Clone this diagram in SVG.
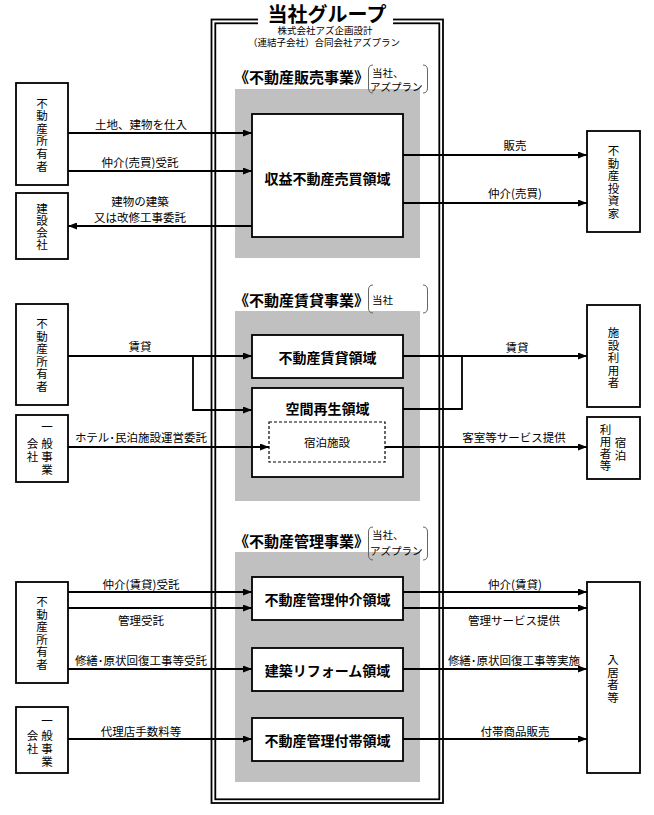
<svg xmlns="http://www.w3.org/2000/svg" width="654" height="815" viewBox="0 0 654 815">
<style>
text{font-family:"Noto Sans CJK JP","Noto Sans",sans-serif;fill:#000}
.box{fill:#fff;stroke:#000;stroke-width:1.8}
.grey{fill:#c0c0c0}
.frame{fill:none;stroke:#000;stroke-width:1.8}
.ln{fill:none;stroke:#000;stroke-width:1.8}
.arr{fill:none;stroke:#000;stroke-width:1.8;marker-end:url(#ah)}
.dash{fill:#fff;stroke:#000;stroke-width:1.2;stroke-dasharray:3 2}
.brk{fill:none;stroke:#666;stroke-width:1}
.v{font-size:11.5px;text-anchor:middle;dominant-baseline:central}
.lb{font-size:11.5px;text-anchor:middle;dominant-baseline:central}
.bt{font-size:14px;font-weight:bold;text-anchor:middle;dominant-baseline:central}
.hd{font-size:15px;font-weight:bold}
.sm{font-size:10.5px}
</style>
<defs>
<marker id="ah" markerUnits="userSpaceOnUse" markerWidth="9" markerHeight="7" refX="9" refY="3.5" orient="auto">
<path d="M0,0 L9,3.5 L0,7 z" fill="#000"/>
</marker>
</defs>
<rect width="654" height="815" fill="#fff"/>

<g id="group-frame">
<rect class="frame" x="211.5" y="19.5" width="231.5" height="783.5"/>
<rect class="frame" x="215.3" y="23.3" width="224" height="776"/>
<rect x="258" y="10" width="135" height="18" fill="#fff"/>
<text x="327" y="21.5" font-size="20" font-weight="bold" text-anchor="middle">当社グループ</text>
<text x="325" y="34" font-size="9.5" text-anchor="middle">株式会社アズ企画設計</text>
<text x="324" y="45.5" font-size="9.5" text-anchor="middle">（連結子会社）合同会社アズプラン</text>
</g>

<g id="sec-sales">
<rect class="grey" x="235" y="89" width="185" height="169"/>
<text class="hd" x="234" y="83">《不動産販売事業》</text>
<path class="brk" d="M373,65 Q368.5,65 368.5,70 L368.5,88 Q368.5,93 373,93"/>
<path class="brk" d="M423,65 Q427.5,65 427.5,70 L427.5,88 Q427.5,93 423,93"/>
<text class="sm" x="372" y="77">当社、</text>
<text class="sm" x="370" y="90.5">アズプラン</text>
</g>
<g id="n-shueki">
<rect class="box" x="252" y="114" width="151" height="123"/>
<text class="bt" x="327.5" y="177.5">収益不動産売買領域</text>
</g>

<g id="sec-rental">
<rect class="grey" x="235" y="311" width="185" height="190"/>
<text class="hd" x="234" y="306">《不動産賃貸事業》</text>
<path class="brk" d="M373,285 Q368.5,285 368.5,290 L368.5,308 Q368.5,313 373,313"/>
<path class="brk" d="M423,285 Q427.5,285 427.5,290 L427.5,308 Q427.5,313 423,313"/>
<text class="sm" x="372" y="304">当社</text>
</g>
<g id="n-chintai">
<rect class="box" x="252" y="335" width="151" height="43"/>
<text class="bt" x="327.5" y="357">不動産賃貸領域</text>
</g>
<g id="n-kukan">
<rect class="box" x="252" y="388" width="151" height="89"/>
<text class="bt" x="327.5" y="408">空間再生領域</text>
</g>
<g id="n-shukuhaku">
<rect class="dash" x="269" y="422" width="116" height="40"/>
<text class="lb" x="327" y="442">宿泊施設</text>
</g>

<g id="sec-mgmt">
<rect class="grey" x="235" y="552" width="185" height="230"/>
<text class="hd" x="234" y="547">《不動産管理事業》</text>
<path class="brk" d="M373,527 Q368.5,527 368.5,532 L368.5,555 Q368.5,560 373,560"/>
<path class="brk" d="M423,527 Q427.5,527 427.5,532 L427.5,555 Q427.5,560 423,560"/>
<text class="sm" x="372" y="539">当社、</text>
<text class="sm" x="370" y="555">アズプラン</text>
</g>
<g id="n-kanri-chukai">
<rect class="box" x="252" y="577" width="151" height="43"/>
<text class="bt" x="327.5" y="598.5">不動産管理仲介領域</text>
</g>
<g id="n-reform">
<rect class="box" x="252" y="648" width="151" height="43"/>
<text class="bt" x="327.5" y="670">建築リフォーム領域</text>
</g>
<g id="n-futai">
<rect class="box" x="252" y="718" width="151" height="43"/>
<text class="bt" x="327.5" y="740">不動産管理付帯領域</text>
</g>

<!-- external nodes -->
<g id="n-owner1">
<rect class="box" x="16" y="83" width="52" height="102"/>
<text class="v" x="42" y="102.5">不</text><text class="v" x="42" y="115.1">動</text><text class="v" x="42" y="127.7">産</text><text class="v" x="42" y="140.3">所</text><text class="v" x="42" y="152.9">有</text><text class="v" x="42" y="165.5">者</text>
</g>
<g id="n-kensetsu">
<rect class="box" x="16" y="193" width="52" height="66"/>
<text class="v" x="42" y="207.5">建</text><text class="v" x="42" y="219.5">設</text><text class="v" x="42" y="231.5">会</text><text class="v" x="42" y="243.5">社</text>
</g>
<g id="n-investor">
<rect class="box" x="587" y="131" width="53" height="101"/>
<text class="v" x="613.5" y="150">不</text><text class="v" x="613.5" y="162.6">動</text><text class="v" x="613.5" y="175.2">産</text><text class="v" x="613.5" y="187.8">投</text><text class="v" x="613.5" y="200.4">資</text><text class="v" x="613.5" y="213">家</text>
</g>
<g id="n-owner2">
<rect class="box" x="16" y="304" width="52" height="101"/>
<text class="v" x="42" y="323">不</text><text class="v" x="42" y="335.6">動</text><text class="v" x="42" y="348.2">産</text><text class="v" x="42" y="360.8">所</text><text class="v" x="42" y="373.4">有</text><text class="v" x="42" y="386">者</text>
</g>
<g id="n-general1">
<rect class="box" x="16" y="415" width="52" height="67"/>
<text class="v" x="47" y="426">一</text><text class="v" x="47" y="443">般</text><text class="v" x="47" y="456">事</text><text class="v" x="47" y="469">業</text>
<text class="v" x="32.5" y="443">会</text><text class="v" x="32.5" y="456">社</text>
</g>
<g id="n-facility-user">
<rect class="box" x="587" y="305" width="53" height="102"/>
<text class="v" x="613.5" y="332">施</text><text class="v" x="613.5" y="344.5">設</text><text class="v" x="613.5" y="357">利</text><text class="v" x="613.5" y="369.5">用</text><text class="v" x="613.5" y="382">者</text>
</g>
<g id="n-guest">
<rect class="box" x="587" y="417" width="53" height="62"/>
<text class="v" x="620.5" y="442">宿</text><text class="v" x="620.5" y="455">泊</text>
<text class="v" x="605.5" y="429">利</text><text class="v" x="605.5" y="441">用</text><text class="v" x="605.5" y="453">者</text><text class="v" x="605.5" y="465">等</text>
</g>
<g id="n-owner3">
<rect class="box" x="16" y="582" width="52" height="101"/>
<text class="v" x="42" y="601">不</text><text class="v" x="42" y="613.6">動</text><text class="v" x="42" y="626.2">産</text><text class="v" x="42" y="638.8">所</text><text class="v" x="42" y="651.4">有</text><text class="v" x="42" y="664">者</text>
</g>
<g id="n-general2">
<rect class="box" x="16" y="707" width="52" height="66"/>
<text class="v" x="47" y="720">一</text><text class="v" x="47" y="735">般</text><text class="v" x="47" y="748">事</text><text class="v" x="47" y="761">業</text>
<text class="v" x="32.5" y="735">会</text><text class="v" x="32.5" y="748">社</text>
</g>
<g id="n-resident">
<rect class="box" x="587" y="582" width="53" height="191"/>
<text class="v" x="613" y="659">入</text><text class="v" x="613" y="671.5">居</text><text class="v" x="613" y="684">者</text><text class="v" x="613" y="696.5">等</text>
</g>

<g id="connectors">
<line class="arr" x1="68" y1="133" x2="252" y2="133"/>
<line class="arr" x1="68" y1="171" x2="252" y2="171"/>
<line class="arr" x1="252" y1="226" x2="68" y2="226"/>
<line class="arr" x1="403" y1="155" x2="587" y2="155"/>
<line class="arr" x1="403" y1="203" x2="587" y2="203"/>

<line class="arr" x1="68" y1="356" x2="252" y2="356"/>
<polyline class="arr" points="193,356 193,410 252,410"/>
<line class="arr" x1="68" y1="447" x2="269" y2="447"/>
<line class="arr" x1="403" y1="356" x2="587" y2="356"/>
<polyline class="ln" points="403,409 462,409 462,356"/>
<line class="arr" x1="385" y1="447" x2="587" y2="447"/>

<line class="arr" x1="68" y1="592" x2="252" y2="592"/>
<line class="arr" x1="68" y1="608" x2="252" y2="608"/>
<line class="arr" x1="68" y1="669" x2="252" y2="669"/>
<line class="arr" x1="68" y1="739" x2="252" y2="739"/>
<line class="arr" x1="403" y1="592" x2="587" y2="592"/>
<line class="arr" x1="403" y1="608" x2="587" y2="608"/>
<line class="arr" x1="403" y1="669" x2="587" y2="669"/>
<line class="arr" x1="403" y1="739" x2="587" y2="739"/>

<text class="lb" x="141" y="124">土地、建物を仕入</text>
<text class="lb" x="140" y="162">仲介(売買)受託</text>
<text class="lb" x="140" y="201">建物の建築</text>
<text class="lb" x="140" y="217">又は改修工事委託</text>
<text class="lb" x="515" y="145">販売</text>
<text class="lb" x="515" y="193">仲介(売買)</text>

<text class="lb" x="140" y="346">賃貸</text>
<text class="lb" x="141" y="437">ホテル･民泊施設運営委託</text>
<text class="lb" x="517" y="346.5">賃貸</text>
<text class="lb" x="514" y="437">客室等サービス提供</text>

<text class="lb" x="141" y="584">仲介(賃貸)受託</text>
<text class="lb" x="141" y="619.5">管理受託</text>
<text class="lb" x="141" y="659.5">修繕･原状回復工事等受託</text>
<text class="lb" x="141" y="731">代理店手数料等</text>
<text class="lb" x="515" y="584">仲介(賃貸)</text>
<text class="lb" x="514" y="619.5">管理サービス提供</text>
<text class="lb" x="514" y="659.5">修繕･原状回復工事等実施</text>
<text class="lb" x="515" y="731">付帯商品販売</text>
</g>
</svg>
